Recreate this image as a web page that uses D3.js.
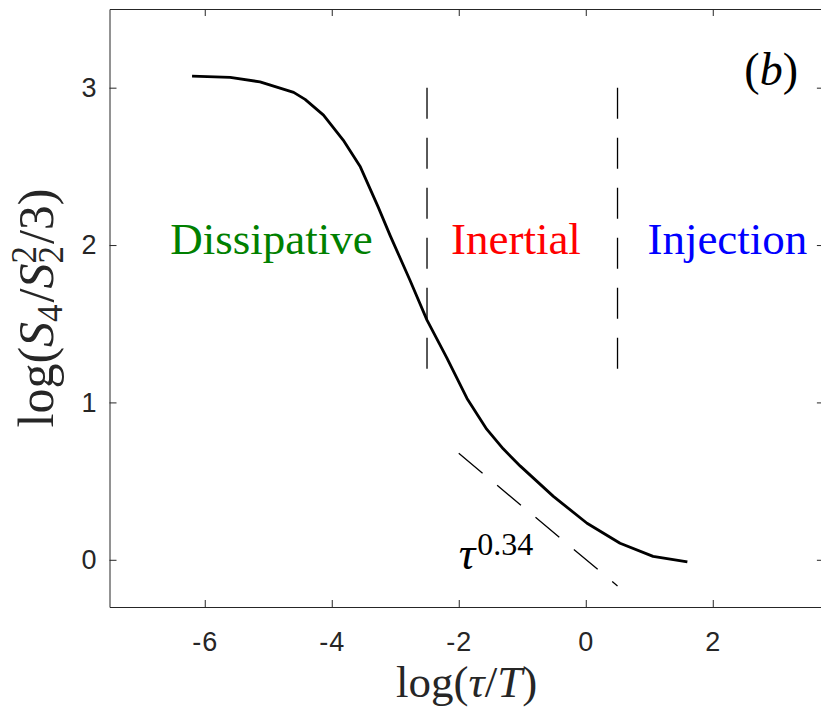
<!DOCTYPE html>
<html>
<head>
<meta charset="utf-8">
<script src="https://cdn.jsdelivr.net/npm/d3@7"></script>
<style>
  body { margin: 0; background: #fff; }
  svg { display: block; }
  .tick line, .domain { stroke: #262626; stroke-width: 1; }
  .serif { font-family: "Liberation Serif", "Times New Roman", serif; }
</style>
</head>
<body>
<script>
////////////////////////////// DATA //////////////////////////////
// curve: log(S4 / S2^2 / 3) against log(tau / T)
var logTau  = [-6.20, -5.60, -5.13, -4.60, -4.42, -4.13, -3.82, -3.55, -3.27, -3.08, -2.77,
               -2.50, -2.19, -1.87, -1.56, -1.30, -1.03, -0.51, 0.02, 0.54, 1.06, 1.60];
var logFlat = [3.073, 3.065, 3.037, 2.970, 2.926, 2.826, 2.667, 2.497, 2.243, 2.060, 1.778,
               1.523, 1.285, 1.025, 0.830, 0.705, 0.595, 0.403, 0.232, 0.105, 0.022, -0.014];

// tau^0.34 guide line (two end points)
var fitX = [-2.0, 0.5];
var fitY = [0.677, -0.166];

// range boundaries (vertical dashed lines)
var boundX = [-2.5, 0.5];
var boundY = [1.2, 3.0];

// range names
var rangeNames  = ["Dissipative", "Inertial", "Injection"];
var rangeColors = ["#008000", "#ff0000", "#0000ff"];
var rangeX      = [-4.95, -1.10, 2.23];
var rangeY      = 1.94;

var xTicks = [-6, -4, -2, 0, 2];
var yTicks = [0, 1, 2, 3];

////////////////////////////// SETUP //////////////////////////////
var width = 821, height = 708;
var x = d3.scaleLinear().domain([-7.5, 3.75]).range([109.5, 823.9]);
var y = d3.scaleLinear().domain([-0.3, 3.5]).range([607, 9]);

var svg = d3.select("body").append("svg")
    .attr("width", width)
    .attr("height", height);

function fmt(d) { return String(d); }

// axes (ticks point inward on all four sides)
svg.append("g")
    .attr("transform", "translate(0," + y.range()[0] + ")")
    .call(d3.axisBottom(x).tickValues(xTicks).tickFormat(fmt).tickSizeInner(-7).tickSizeOuter(0).tickPadding(25));
svg.append("g")
    .attr("transform", "translate(0," + y.range()[1] + ")")
    .call(d3.axisTop(x).tickValues(xTicks).tickFormat("").tickSizeInner(-7).tickSizeOuter(0));
svg.append("g")
    .attr("transform", "translate(" + x.range()[0] + ",0)")
    .call(d3.axisLeft(y).tickValues(yTicks).tickFormat(fmt).tickSizeInner(-7).tickSizeOuter(0).tickPadding(12));
svg.append("g")
    .attr("transform", "translate(" + x.range()[1] + ",0)")
    .call(d3.axisRight(y).tickValues(yTicks).tickFormat("").tickSizeInner(-7).tickSizeOuter(0));

svg.selectAll(".tick text")
    .attr("fill", "#262626")
    .style("font-family", "'Liberation Sans', Arial, sans-serif")
    .style("font-size", "27px")
    .style("letter-spacing", "1px");

////////////////////////////// MARKS //////////////////////////////
var line = d3.line()
    .x(function (d) { return x(d[0]); })
    .y(function (d) { return y(d[1]); });

var curve = logTau.map(function (t, i) { return [t, logFlat[i]]; });

svg.append("path")
    .datum(curve)
    .attr("d", line)
    .attr("fill", "none")
    .attr("stroke", "#000")
    .attr("stroke-width", 2.8)
    .attr("stroke-linejoin", "round");

// boundaries
svg.selectAll(".bound")
    .data(boundX)
    .enter()
    .append("path")
    .attr("class", "bound")
    .attr("d", function (d) { return line([[d, boundY[1]], [d, boundY[0]]]); })
    .attr("fill", "none")
    .attr("stroke", "#000")
    .attr("stroke-width", 1.3)
    .attr("stroke-dasharray", "31,19");

// power law guide
svg.append("path")
    .datum(fitX.map(function (v, i) { return [v, fitY[i]]; }))
    .attr("d", line)
    .attr("fill", "none")
    .attr("stroke", "#000")
    .attr("stroke-width", 1.3)
    .attr("stroke-dasharray", "31,19");

////////////////////////////// TEXT //////////////////////////////
svg.selectAll(".range")
    .data(rangeNames)
    .enter()
    .append("text")
    .attr("class", "range serif")
    .attr("x", function (d, i) { return x(rangeX[i]); })
    .attr("y", y(rangeY))
    .attr("text-anchor", "middle")
    .attr("font-size", 45)
    .attr("fill", function (d, i) { return rangeColors[i]; })
    .text(function (d) { return d; });

// tau^0.34
var tauLbl = svg.append("text")
    .attr("class", "serif")
    .attr("x", x(-2.0))
    .attr("y", y(-0.058))
    .attr("font-size", 46);
tauLbl.append("tspan").attr("font-style", "italic").text("τ");
tauLbl.append("tspan").attr("dy", -14).attr("dx", 2).attr("font-size", 32).text("0.34");

// (b)
var bLbl = svg.append("text")
    .attr("class", "serif")
    .attr("x", x(2.92))
    .attr("y", y(3.02))
    .attr("text-anchor", "middle")
    .attr("font-size", 46);
bLbl.append("tspan").text("(");
bLbl.append("tspan").attr("font-style", "italic").text("b");
bLbl.append("tspan").text(")");

// x label
var xl = svg.append("text")
    .attr("class", "serif")
    .attr("x", (x.range()[0] + x.range()[1]) / 2)
    .attr("y", 697)
    .attr("text-anchor", "middle")
    .attr("font-size", 45)
    .attr("fill", "#262626");
xl.append("tspan").text("log(");
xl.append("tspan").attr("font-style", "italic").text("τ");
xl.append("tspan").text("/");
xl.append("tspan").attr("font-style", "italic").text("T");
xl.append("tspan").text(")");

// y label
var yc = (y.range()[0] + y.range()[1]) / 2;
var yl = svg.append("text")
    .attr("class", "serif")
    .attr("transform", "translate(53," + yc + ") rotate(-90)")
    .attr("text-anchor", "middle")
    .attr("font-size", 50)
    .attr("fill", "#262626");
yl.append("tspan").text("log(");
yl.append("tspan").attr("font-style", "italic").text("S");
yl.append("tspan").attr("font-size", 35).attr("dy", 9).text("4");
yl.append("tspan").attr("dy", -9).attr("dx", 2).text("/");
yl.append("tspan").attr("font-style", "italic").text("S");
yl.append("tspan").attr("font-size", 35).attr("dy", -17).text("2");
yl.append("tspan").attr("font-size", 35).attr("dx", -17.5).attr("dy", 27).text("2");
yl.append("tspan").attr("dy", -10).attr("dx", 2).text("/3)");
</script>
</body>
</html>
